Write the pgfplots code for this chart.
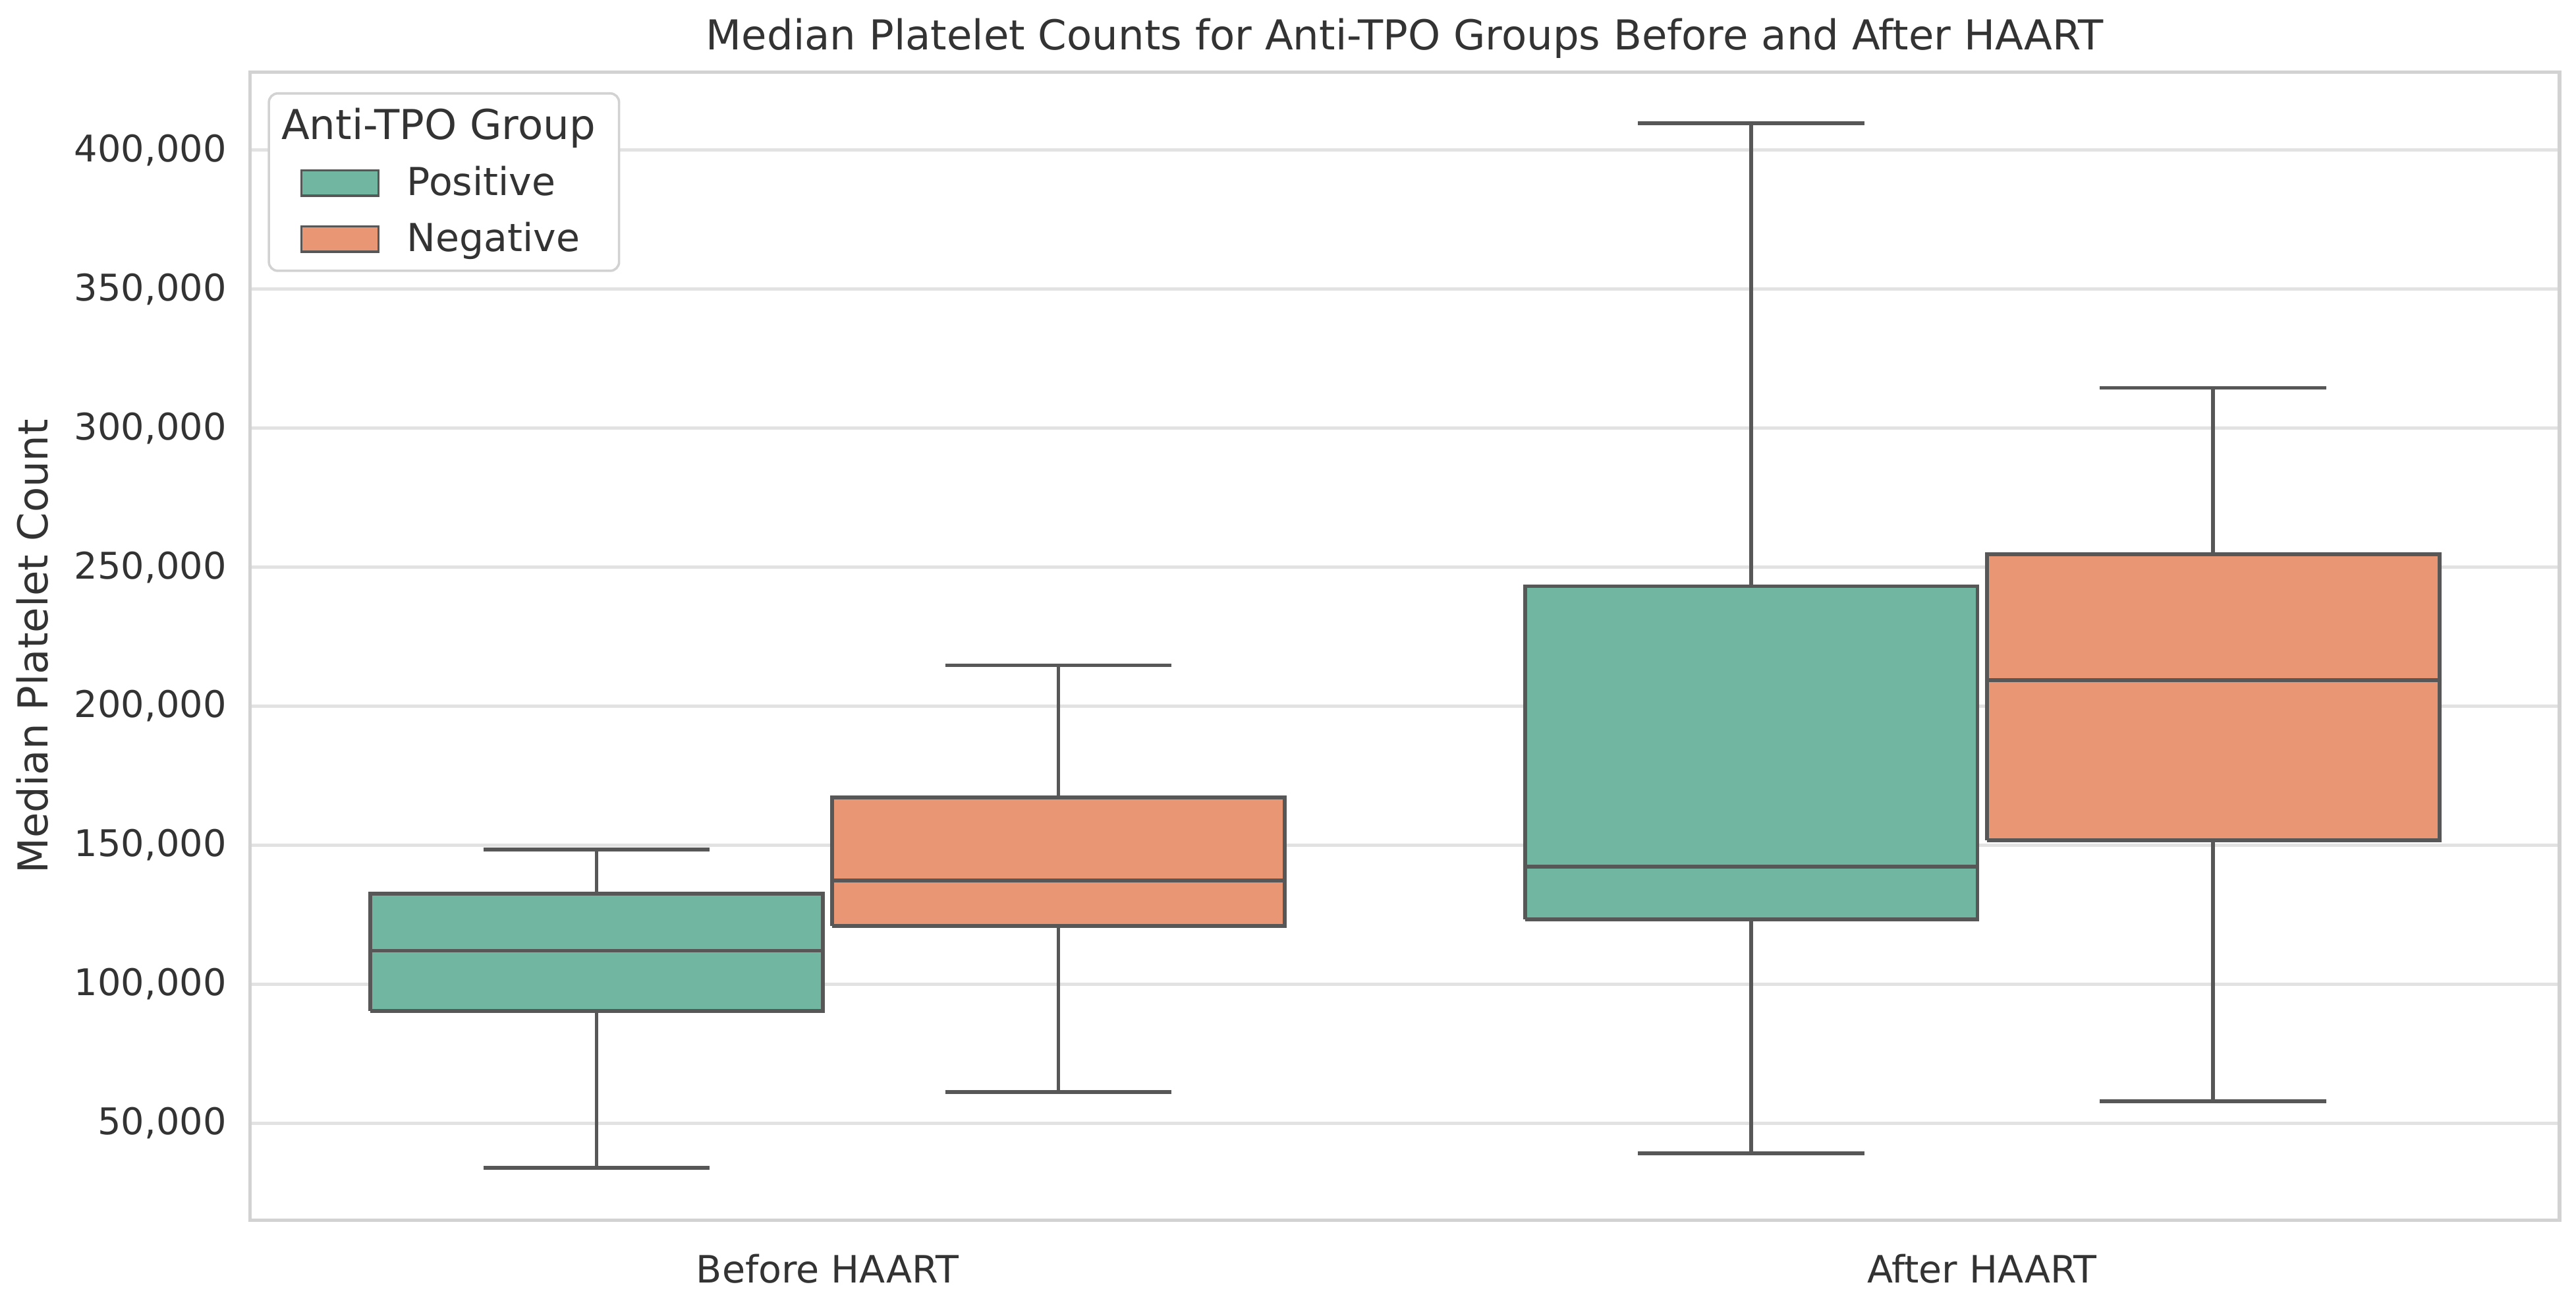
\documentclass[border=0pt]{standalone}
\usepackage{pgfplots}
\pgfplotsset{compat=1.18}
\usepackage{fontspec}
\setmainfont{DejaVu Sans}
\definecolor{posc}{HTML}{71B6A1}
\definecolor{negc}{HTML}{E99675}
\definecolor{linec}{HTML}{575757}
\definecolor{gridc}{HTML}{E2E2E2}
\definecolor{framec}{HTML}{D2D2D2}
\definecolor{txtc}{HTML}{333333}
\pgfplotsset{
  boxst/.style={forget plot, draw=linec, line width=1.3pt, mark=none, line join=miter},
  lnst/.style={forget plot, draw=linec, line width=1.3pt, mark=none},
}
\begin{document}
\begin{tikzpicture}
\begin{axis}[
  name=ax,
  scale only axis,
  width=778.9pt, height=387.1pt,
  xmin=-0.5, xmax=1.5,
  ymin=15, ymax=428,
  xtick={0,1},
  xticklabels={Before HAART, After HAART},
  ytick={50,100,150,200,250,300,350,400},
  yticklabels={50{,}000,100{,}000,150{,}000,200{,}000,250{,}000,300{,}000,350{,}000,400{,}000},
  tick style={draw=none},
  ymajorgrids,
  grid style={gridc, line width=1.1pt},
  axis line style={framec, line width=1.2pt},
  tick label style={text=txtc},
  yticklabel style={font=\fontsize{12.4}{14}\selectfont, xshift=-4.5pt},
  xticklabel style={font=\fontsize{12.7}{14}\selectfont, yshift=-7.8pt},
  ylabel={Median Platelet Count},
  ylabel style={font=\fontsize{13.9}{16}\selectfont, text=txtc, yshift=2pt},
  title={Median Platelet Counts for Anti-TPO Groups Before and After HAART},
  title style={font=\fontsize{13.9}{16}\selectfont, text=txtc, yshift=-4.8pt},
  legend style={at={(rel axis cs:0,1)}, anchor=north west, xshift=5.9pt, yshift=-6.7pt,
    draw=framec, line width=0.8pt, rounded corners=3pt, fill=white,
    font=\fontsize{13.0}{15}\selectfont, text=txtc,
    inner xsep=6pt, inner ysep=3pt, row sep=3.5pt,
    cells={anchor=west},
    /tikz/every odd column/.style={column sep=7.2pt}},
  legend cell align=left,
]
\addlegendimage{empty legend}
\addlegendentry{\hspace{-42.4pt}\fontsize{13.9}{16}\selectfont Anti-TPO Group}
\addlegendimage{legend image code/.code={\draw[sharp corners, fill=posc, draw=linec, line width=0.8pt] (5pt,-4.3pt) rectangle (31pt,4.3pt);}}
\addlegendentry{Positive}
\addlegendimage{legend image code/.code={\draw[sharp corners, fill=negc, draw=linec, line width=0.8pt] (5pt,-4.3pt) rectangle (31pt,4.3pt);}}
\addlegendentry{Negative}

% values in thousands of platelets
% ---- Before HAART, Positive (x=-0.2): 33.839 / 90.332 / 112.014 / 132.536 / 148.412
\addplot[boxst, fill=posc] coordinates {(-0.396,90.332) (-0.004,90.332) (-0.004,132.536) (-0.396,132.536) (-0.396,90.332)};
\addplot[lnst] coordinates {(-0.396,112.014) (-0.004,112.014)};
\addplot[lnst] coordinates {(-0.2,33.839) (-0.2,90.332)};
\addplot[lnst] coordinates {(-0.2,132.536) (-0.2,148.412)};
\addplot[lnst] coordinates {(-0.298,33.839) (-0.102,33.839)};
\addplot[lnst] coordinates {(-0.298,148.412) (-0.102,148.412)};
% ---- Before HAART, Negative (x=0.2): 61.138 / 121.019 / 137.299 / 167.227 / 214.692
\addplot[boxst, fill=negc] coordinates {(0.004,121.019) (0.396,121.019) (0.396,167.227) (0.004,167.227) (0.004,121.019)};
\addplot[lnst] coordinates {(0.004,137.299) (0.396,137.299)};
\addplot[lnst] coordinates {(0.2,61.138) (0.2,121.019)};
\addplot[lnst] coordinates {(0.2,167.227) (0.2,214.692)};
\addplot[lnst] coordinates {(0.102,61.138) (0.298,61.138)};
\addplot[lnst] coordinates {(0.102,214.692) (0.298,214.692)};
% ---- After HAART, Positive (x=0.8): 39.218 / 123.223 / 142.180 / 243.128 / 409.716
\addplot[boxst, fill=posc] coordinates {(0.604,123.223) (0.996,123.223) (0.996,243.128) (0.604,243.128) (0.604,123.223)};
\addplot[lnst] coordinates {(0.604,142.180) (0.996,142.180)};
\addplot[lnst] coordinates {(0.8,39.218) (0.8,123.223)};
\addplot[lnst] coordinates {(0.8,243.128) (0.8,409.716)};
\addplot[lnst] coordinates {(0.702,39.218) (0.898,39.218)};
\addplot[lnst] coordinates {(0.702,409.716) (0.898,409.716)};
% ---- After HAART, Negative (x=1.2): 57.867 / 151.801 / 209.289 / 254.621 / 314.502
\addplot[boxst, fill=negc] coordinates {(1.004,151.801) (1.396,151.801) (1.396,254.621) (1.004,254.621) (1.004,151.801)};
\addplot[lnst] coordinates {(1.004,209.289) (1.396,209.289)};
\addplot[lnst] coordinates {(1.2,57.867) (1.2,151.801)};
\addplot[lnst] coordinates {(1.2,254.621) (1.2,314.502)};
\addplot[lnst] coordinates {(1.102,57.867) (1.298,57.867)};
\addplot[lnst] coordinates {(1.102,314.502) (1.298,314.502)};
\end{axis}
\pgfresetboundingbox
\path[use as bounding box] ([xshift=-84.4pt,yshift=-25.7pt]ax.south west) rectangle ([xshift=5.6pt,yshift=24.4pt]ax.north east);
\end{tikzpicture}
\end{document}
